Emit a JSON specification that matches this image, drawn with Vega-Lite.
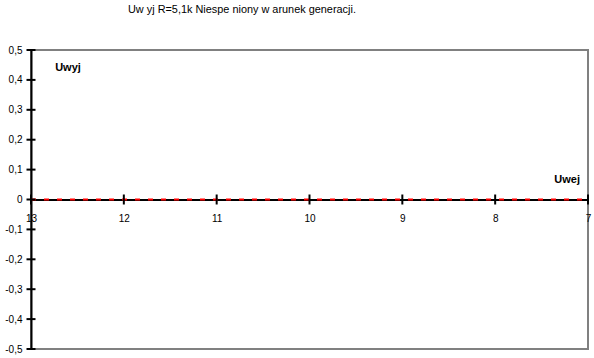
{
  "$schema": "https://vega.github.io/schema/vega-lite/v6.json",
  "width": 557,
  "height": 299,
  "autosize": {"type": "none"},
  "padding": {"left": 31, "top": 50, "right": 6, "bottom": 9},
  "background": "white",
  "config": {
    "view": {"stroke": "#808080", "strokeWidth": 2},
    "font": "Liberation Sans"
  },
  "title": {
    "text": "Uw yj  R=5,1k Niespe niony w arunek generacji.",
    "anchor": "start",
    "frame": "group",
    "dx": 97,
    "offset": 30,
    "fontSize": 10.9,
    "fontWeight": "normal",
    "font": "Liberation Sans",
    "color": "black"
  },
  "datasets": {
    "series": [
      {"x": 13, "y": 0}, {"x": 12, "y": 0}, {"x": 11, "y": 0}, {"x": 10, "y": 0},
      {"x": 9, "y": 0}, {"x": 8, "y": 0}, {"x": 7, "y": 0}
    ],
    "yticks": [
      {"x": 13, "y": -0.5}, {"x": 13, "y": -0.4}, {"x": 13, "y": -0.3}, {"x": 13, "y": -0.2},
      {"x": 13, "y": -0.1}, {"x": 13, "y": 0}, {"x": 13, "y": 0.1}, {"x": 13, "y": 0.2},
      {"x": 13, "y": 0.3}, {"x": 13, "y": 0.4}, {"x": 13, "y": 0.5}
    ],
    "labelLeft": [
      {"x": 12.74, "y": 0.44, "label": "Uwyj"}
    ],
    "labelRight": [
      {"x": 7.086, "y": 0.065, "label": "Uwej"}
    ]
  },
  "encoding": {
    "x": {
      "field": "x", "type": "quantitative",
      "scale": {"domain": [7, 13], "reverse": true, "nice": false, "zero": false},
      "axis": {
        "orient": "bottom", "offset": -149.5, "title": null, "grid": false,
        "values": [13, 12, 11, 10, 9, 8, 7],
        "ticks": false, "domainColor": "black", "domainWidth": 2,
        "labelFontSize": 10, "labelColor": "black", "labelPadding": 14,
        "labelFlush": false, "labelOverlap": false,
        "labelFont": "Liberation Sans"
      }
    },
    "y": {
      "field": "y", "type": "quantitative",
      "scale": {"domain": [-0.5, 0.5], "nice": false, "zero": false},
      "axis": {
        "title": null, "grid": false,
        "values": [-0.5, -0.4, -0.3, -0.2, -0.1, 0, 0.1, 0.2, 0.3, 0.4, 0.5],
        "labelExpr": "datum.value == 0 ? '0' : (datum.value < 0 ? '-' : '') + replace(format(abs(datum.value), '.1f'), '.', ',')",
        "ticks": false, "domainColor": "black", "domainWidth": 2,
        "labelFontSize": 10, "labelColor": "black", "labelPadding": 9,
        "labelFlush": false, "labelOverlap": false,
        "labelFont": "Liberation Sans"
      }
    }
  },
  "layer": [
    {
      "data": {"name": "series"},
      "mark": {"type": "line", "color": "#ff0000", "strokeWidth": 2, "strokeDash": [5, 8], "clip": false}
    },
    {
      "data": {"name": "series"},
      "mark": {"type": "tick", "orient": "vertical", "color": "black", "size": 10, "thickness": 2, "opacity": 1}
    },
    {
      "data": {"name": "yticks"},
      "mark": {"type": "tick", "orient": "horizontal", "color": "black", "size": 9, "thickness": 2, "opacity": 1}
    },
    {
      "data": {"name": "labelLeft"},
      "mark": {"type": "text", "align": "left", "fontWeight": "bold", "fontSize": 11, "baseline": "middle", "color": "black", "font": "Liberation Sans"},
      "encoding": {"text": {"field": "label"}}
    },
    {
      "data": {"name": "labelRight"},
      "mark": {"type": "text", "align": "right", "fontWeight": "bold", "fontSize": 11, "baseline": "middle", "color": "black", "font": "Liberation Sans"},
      "encoding": {"text": {"field": "label"}}
    }
  ]
}
